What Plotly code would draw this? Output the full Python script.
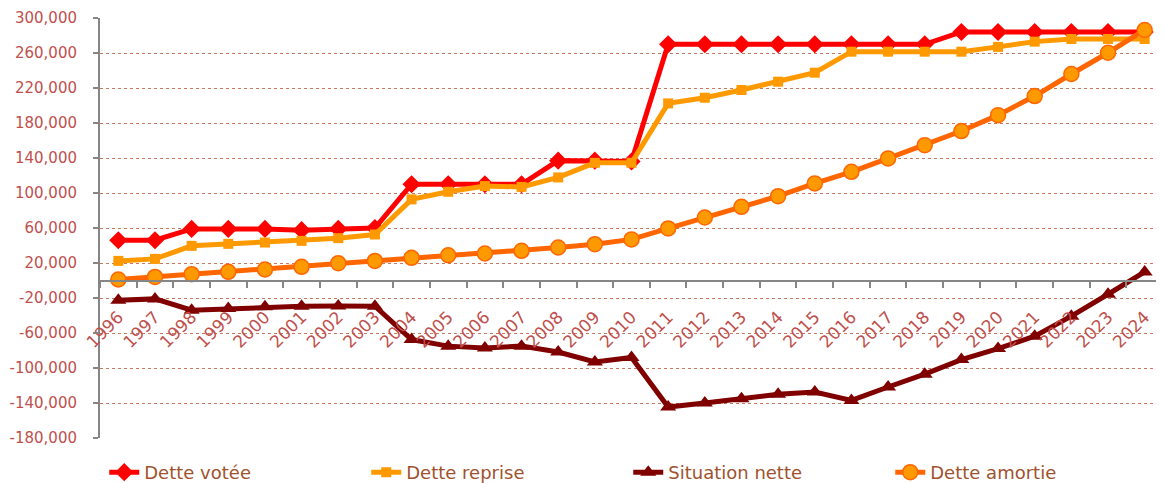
import plotly.graph_objects as go

years = [str(y) for y in range(1996, 2025)]

dette_votee = [46000, 46000, 59000, 59000, 59000, 57500, 59000, 60000,
               110000, 110000, 110000, 110000, 137000, 137000, 136000,
               270000, 270000, 270000, 270000, 270000, 270000, 270000, 270000,
               284000, 284000, 284000, 284000, 284000, 284000]

dette_reprise = [22400, 24700, 39600, 41900, 43400, 45300, 48400, 52600,
                 92700, 101400, 107900, 107000, 117800, 134500, 134500,
                 202400, 208900, 217700, 227200, 237500, 261500, 261500, 261500,
                 261500, 267000, 273000, 276000, 276000, 276000]

situation_nette = [-22500, -21000, -34000, -32000, -30000, -29400, -29000, -29400,
                   -67500, -75000, -77000, -75000, -81700, -93000, -88000,
                   -144600, -140000, -135000, -130000, -127400, -137000, -121700,
                   -107000, -90400, -77800, -63700, -40800, -15700, 9800]

dette_amortie = [1100, 4100, 7200, 9900, 12600, 15600, 19800, 22400,
                 25900, 28900, 30900, 33900, 37700, 41500, 47000,
                 59500, 72000, 84200, 96400, 111000, 124200, 139500, 154700,
                 170800, 189000, 210800, 236000, 260300, 286300]

ytick_vals = [-180000, -140000, -100000, -60000, -20000, 20000, 60000,
              100000, 140000, 180000, 220000, 260000, 300000]
ytick_labels = ["-180,000", "-140,000", "-100,000", "-60,000", "-20,000", "20,000",
                "60,000", "100,000", "140,000", "180,000", "220,000", "260,000", "300,000"]

FONT = "DejaVu Sans"
LABEL_COLOR = "#C0504D"

fig = go.Figure()
fig.add_trace(go.Scatter(
    x=years, y=dette_votee, name="Dette votée", mode="lines+markers",
    line=dict(color="#FF0000", width=5),
    marker=dict(symbol="diamond", size=14, color="#FF0000")))
fig.add_trace(go.Scatter(
    x=years, y=dette_reprise, name="Dette reprise", mode="lines+markers",
    line=dict(color="#FF9900", width=5),
    marker=dict(symbol="square", size=10, color="#FF9900")))
fig.add_trace(go.Scatter(
    x=years, y=situation_nette, name="Situation nette", mode="lines+markers",
    line=dict(color="#800000", width=5),
    marker=dict(symbol="triangle-up", size=14, color="#800000")))
fig.add_trace(go.Scatter(
    x=years, y=dette_amortie, name="Dette amortie", mode="lines+markers",
    line=dict(color="#FF6600", width=5),
    marker=dict(symbol="circle", size=15, color="#FF9900",
                line=dict(color="#FF6600", width=1.5))))

# page body has an 8px margin: the figure is shrunk by 8px so it fits the window
fig.update_layout(
    width=1156, height=475,
    margin=dict(l=92, r=1, t=10, b=45, autoexpand=False),
    paper_bgcolor="white", plot_bgcolor="white",
    font=dict(family=FONT),
    legend=dict(orientation="h", x=0.004, xanchor="left", y=-0.082, yanchor="middle",
                font=dict(size=18, color="#A0522D", family=FONT),
                entrywidth=217, entrywidthmode="pixels",
                bgcolor="rgba(0,0,0,0)"),
    xaxis=dict(type="category", range=[-0.5, 28.5], anchor="free", position=0.375,
               automargin=False,
               showline=True, linecolor="#868686", linewidth=2,
               ticks="outside", tickson="boundaries", ticklen=6,
               tickcolor="#868686", tickwidth=2,
               showgrid=False, tickangle=-45, ticklabelstandoff=19,
               tickfont=dict(size=17, color=LABEL_COLOR, family=FONT)),
    yaxis=dict(range=[-180000, 300000], tickvals=ytick_vals, ticktext=ytick_labels,
               automargin=False,
               showline=True, linecolor="#868686", linewidth=2,
               ticks="outside", ticklen=5, tickcolor="#868686", tickwidth=2,
               showgrid=True, gridcolor="#C87860", griddash="dot", gridwidth=1,
               zeroline=False, ticklabelstandoff=13,
               tickfont=dict(size=15, color=LABEL_COLOR, family=FONT)),
)

fig.write_html("out.html")
